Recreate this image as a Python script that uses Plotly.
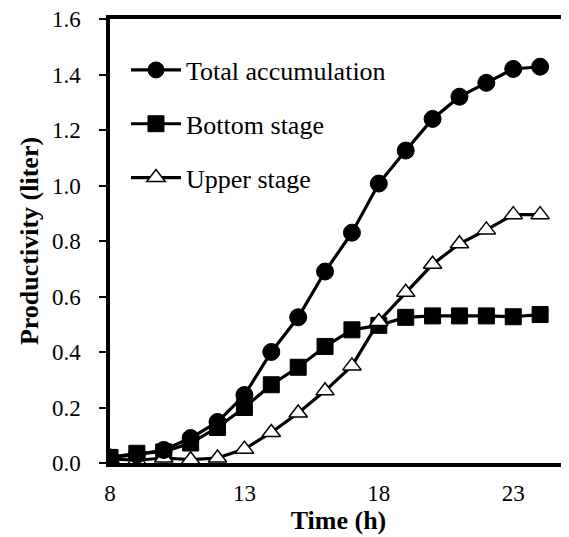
import plotly.graph_objects as go

hours = [8, 9, 10, 11, 12, 13, 14, 15, 16, 17, 18, 19, 20, 21, 22, 23, 24]
total = [0.02, 0.03, 0.047, 0.09, 0.148, 0.245, 0.40, 0.525, 0.69, 0.83, 1.007, 1.126, 1.24, 1.32, 1.37, 1.42, 1.428]
bottom = [0.02, 0.035, 0.04, 0.072, 0.128, 0.20, 0.282, 0.345, 0.42, 0.48, 0.496, 0.525, 0.53, 0.53, 0.53, 0.527, 0.535]
upper = [0.015, 0.01, 0.018, 0.012, 0.018, 0.05, 0.11, 0.18, 0.26, 0.35, 0.51, 0.615, 0.716, 0.79, 0.84, 0.895, 0.895]
names = ["Total accumulation", "Bottom stage", "Upper stage"]
y_ticks = [0.0, 0.2, 0.4, 0.6, 0.8, 1.0, 1.2, 1.4, 1.6]
x_ticks = [8, 13, 18, 23]

FONT = "Liberation Serif, Times New Roman, serif"

fig = go.Figure()
fig.add_trace(go.Scatter(
    x=hours, y=bottom, name=names[1], mode="lines+markers", legendrank=2, legendgroup="b",
    line=dict(color="black", width=3.2),
    marker=dict(symbol="square", size=16, color="black", line=dict(color="black", width=1))))
fig.add_trace(go.Scatter(
    x=hours, y=upper, name=names[2], mode="lines+markers", legendrank=3, legendgroup="c",
    line=dict(color="black", width=3.2),
    marker=dict(symbol="triangle-up", size=16, color="white", line=dict(color="black", width=1.5))))
fig.add_trace(go.Scatter(
    x=hours, y=total, name=names[0], mode="lines+markers", legendrank=1, legendgroup="a",
    line=dict(color="black", width=3.2),
    marker=dict(symbol="circle", size=17, color="black", line=dict(color="black", width=1))))

fig.update_layout(
    width=561, height=529,
    margin=dict(l=102, r=2, t=11, b=74, autoexpand=False),
    paper_bgcolor="white", plot_bgcolor="white",
    font=dict(family=FONT, size=23, color="black"),
    legend=dict(x=0.035, y=0.938, xanchor="left", yanchor="top", itemwidth=50,
                font=dict(family=FONT, size=26, color="black"),
                bgcolor="rgba(0,0,0,0)", tracegroupgap=17, traceorder="grouped"),
)
fig.update_xaxes(
    range=[8, 25], tickvals=x_ticks, ticktext=[str(v) for v in x_ticks], automargin=False,
    showgrid=False, zeroline=False, showline=True, linecolor="black", linewidth=3.5,
    mirror=True, ticks="", ticklabelstandoff=7, ticklabeloverflow="allow",
    title=dict(text="<b>Time (h)</b>", font=dict(family=FONT, size=26), standoff=6),
)
fig.update_yaxes(
    range=[0, 1.6], tickvals=y_ticks, ticktext=[f"{v:.1f}" for v in y_ticks], automargin=False,
    showgrid=False, zeroline=False, showline=True, linecolor="black", linewidth=3.5,
    mirror=True, ticks="outside", ticklen=7, tickwidth=2, tickcolor="black",
    ticklabelstandoff=14, ticklabeloverflow="allow",
    title=dict(text="<b>Productivity (liter)</b>", font=dict(family=FONT, size=26), standoff=7),
)

fig.write_html("out.html")
